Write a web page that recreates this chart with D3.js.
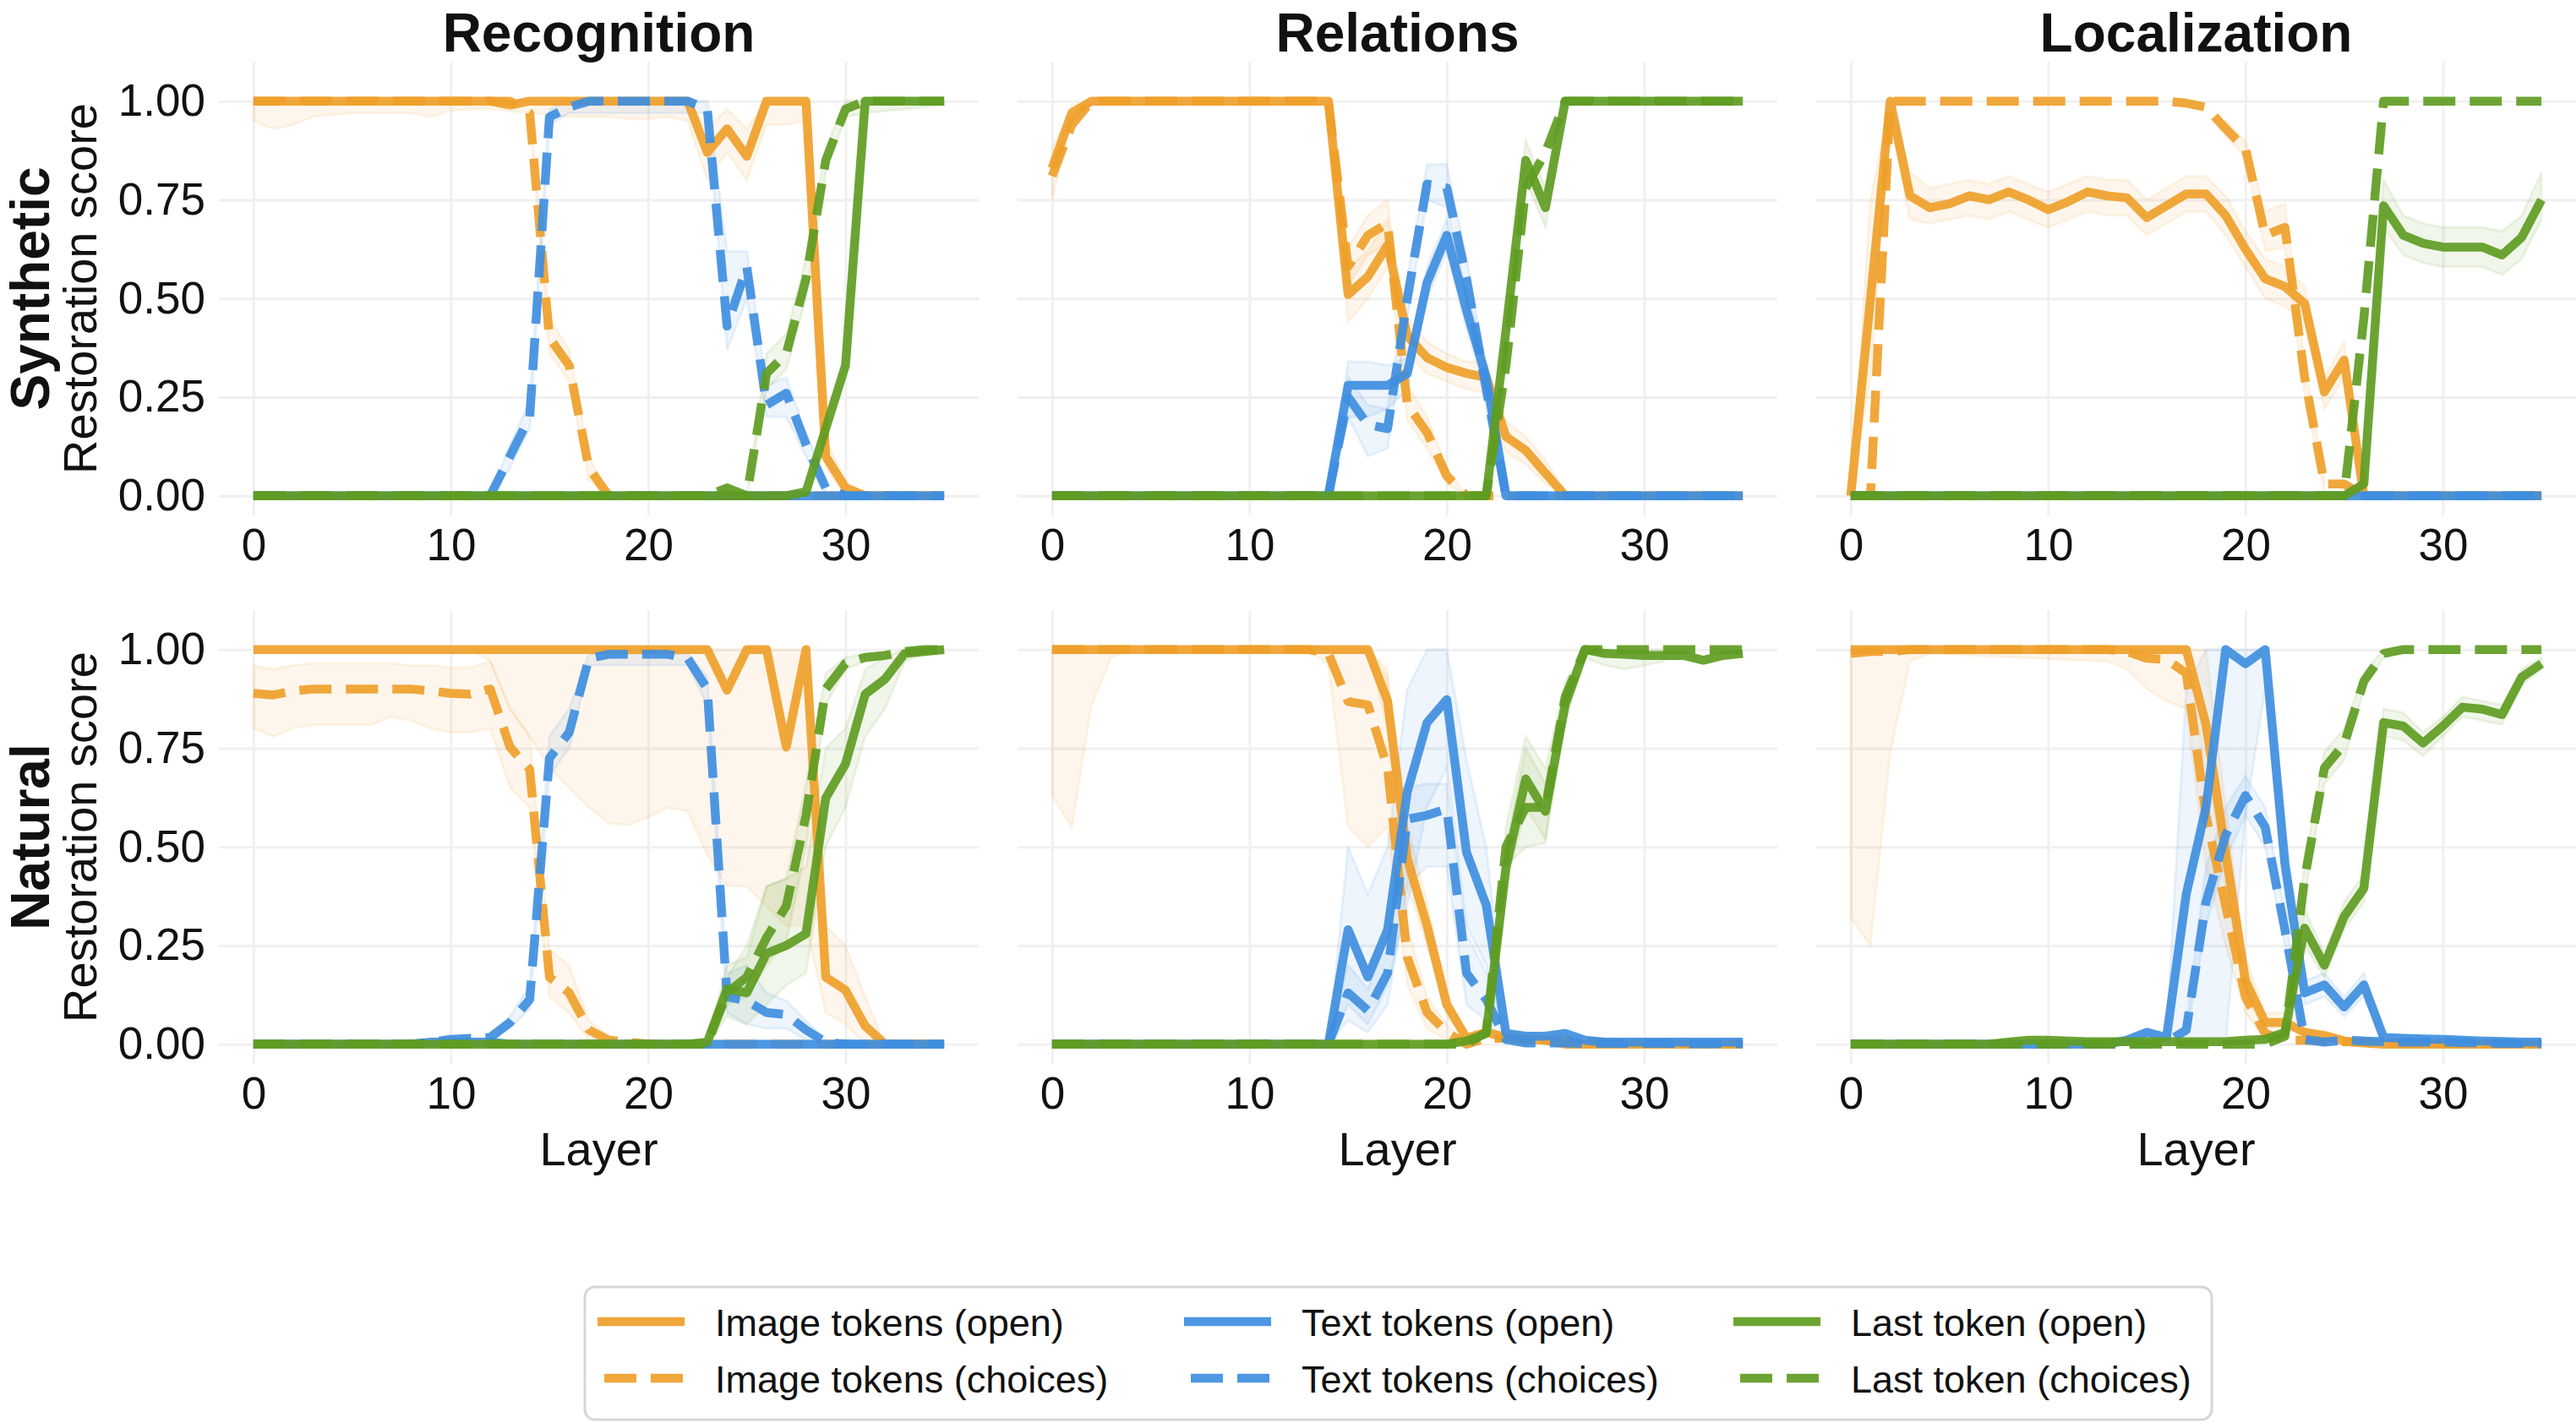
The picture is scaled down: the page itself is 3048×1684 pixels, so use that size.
<!DOCTYPE html>
<html>
<head>
<meta charset="utf-8">
<script src="https://cdn.jsdelivr.net/npm/d3@7"></script>
<style>
  body { margin: 0; background: #fff; }
  text { font-family: "Liberation Sans", Arial, Helvetica, sans-serif; fill: #111; }
</style>
</head>
<body>
<div id="container"></div>
<script>
/* DATA */
const layers = d3.range(36);
const taskNames = ["Recognition", "Relations", "Localization"];
const rowNames = ["Synthetic", "Natural"];
const seriesNames = ["Image tokens (open)", "Image tokens (choices)", "Text tokens (open)",
                     "Text tokens (choices)", "Last token (open)", "Last token (choices)"];
const xTicks = [0, 10, 20, 30];
const yTicks = [0, 0.25, 0.5, 0.75, 1];

// Recognition / Synthetic
const recSynImgOpen = [1,1,1,1,1,1,1,1,1,1,1,1, 1,0.99,1,1,1,1,1,1,1,1,1,0.87, 0.93,0.86,1,1,1,0.1,0.02,0,0,0,0,0];
const recSynImgChoice = [1,1,1,1,1,1,1,1,1,1,1,1, 1,1,0.97,0.4,0.33,0.07,0,0,0,0,0,0, 0,0,0,0,0,0,0,0,0,0,0,0];
const recSynTxtOpen = [0,0,0,0,0,0,0,0,0,0,0,0, 0,0,0,0,0,0,0,0,0,0,0,0, 0,0,0,0,0,0,0,0,0,0,0,0];
const recSynTxtChoice = [0,0,0,0,0,0,0,0,0,0,0,0, 0,0.1,0.2,0.96,0.985,1,1,1,1,1,1,0.98, 0.43,0.58,0.23,0.26,0.13,0.02,0,0,0,0,0,0];
const recSynLastOpen = [0,0,0,0,0,0,0,0,0,0,0,0, 0,0,0,0,0,0,0,0,0,0,0,0, 0,0,0,0,0.01,0.17,0.33,1,1,1,1,1];
const recSynLastChoice = [0,0,0,0,0,0,0,0,0,0,0,0, 0,0,0,0,0,0,0,0,0,0,0,0, 0.02,0,0.31,0.36,0.55,0.85,0.98,1,1,1,1,1];

// Relations / Synthetic
const relSynImgOpen = [0.83,0.97,1,1,1,1,1,1,1,1,1,1, 1,1,1,0.51,0.555,0.635,0.405,0.35,0.325,0.31,0.3,0.15, 0.115,0.057,0,0,0,0,0,0,0,0,0,0];
const relSynImgChoice = [0.81,0.94,1,1,1,1,1,1,1,1,1,1, 1,1,1,0.58,0.66,0.69,0.23,0.16,0.05,0,0,0, 0,0,0,0,0,0,0,0,0,0,0,0];
const relSynTxtOpen = [0,0,0,0,0,0,0,0,0,0,0,0, 0,0,0,0.28,0.28,0.28,0.31,0.54,0.66,0.47,0.3,0, 0,0,0,0,0,0,0,0,0,0,0,0];
const relSynTxtChoice = [0,0,0,0,0,0,0,0,0,0,0,0, 0,0,0,0.25,0.18,0.17,0.5,0.79,0.78,0.55,0.27,0, 0,0,0,0,0,0,0,0,0,0,0,0];
const relSynLastOpen = [0,0,0,0,0,0,0,0,0,0,0,0, 0,0,0,0,0,0,0,0,0,0,0,0.42, 0.85,0.73,1,1,1,1,1,1,1,1,1,1];
const relSynLastChoice = [0,0,0,0,0,0,0,0,0,0,0,0, 0,0,0,0,0,0,0,0,0,0,0,0.33, 0.78,0.87,1,1,1,1,1,1,1,1,1,1];

// Localization / Synthetic
const locSynImgOpen = [0,0.5,1,0.76,0.73,0.74,0.76,0.75,0.77,0.75,0.725,0.745, 0.77,0.76,0.755,0.705,0.735,0.765,0.765,0.71,0.625,0.55,0.53,0.487, 0.263,0.344,0,0,0,0,0,0,0,0,0,0];
const locSynImgChoice = [0,0,1,1,1,1,1,1,1,1,1,1, 1,1,1,1,1,0.995,0.985,0.93,0.88,0.66,0.68,0.3, 0.03,0.03,0,0,0,0,0,0,0,0,0,0];
const locSynTxtOpen = [0,0,0,0,0,0,0,0,0,0,0,0, 0,0,0,0,0,0,0,0,0,0,0,0, 0,0,0,0,0,0,0,0,0,0,0,0];
const locSynTxtChoice = [0,0,0,0,0,0,0,0,0,0,0,0, 0,0,0,0,0,0,0,0,0,0,0,0, 0,0,0,0,0,0,0,0,0,0,0,0];
const locSynLastOpen = [0,0,0,0,0,0,0,0,0,0,0,0, 0,0,0,0,0,0,0,0,0,0,0,0, 0,0,0.03,0.735,0.66,0.64,0.63,0.63,0.63,0.61,0.655,0.75];
const locSynLastChoice = [0,0,0,0,0,0,0,0,0,0,0,0, 0,0,0,0,0,0,0,0,0,0,0,0, 0,0,0.45,1,1,1,1,1,1,1,1,1];

// Recognition / Natural
const recNatImgOpen = [1,1,1,1,1,1,1,1,1,1,1,1, 1,1,1,1,1,1,1,1,1,1,1,1, 0.897,1,1,0.753,1,0.17,0.137,0.046,0,0,0,0];
const recNatImgChoice = [0.889,0.885,0.895,0.9,0.9,0.9,0.9,0.9,0.9,0.895,0.889,0.887, 0.9,0.753,0.696,0.17,0.13,0.036,0.01,0.005,0,0,0,0, 0,0,0,0,0,0,0,0,0,0,0,0];
const recNatTxtOpen = [0,0,0,0,0,0,0,0,0,0.005,0.005,0.005, 0.005,0,0,0,0,0,0,0,0,0,0,0, 0,0,0,0,0,0,0,0,0,0,0,0];
const recNatTxtChoice = [0,0,0,0,0,0,0,0,0,0.005,0.012,0.015, 0.017,0.055,0.113,0.725,0.79,0.978,0.988,0.988,0.988,0.988,0.978,0.9, 0.12,0.11,0.08,0.075,0.036,0.005,0,0,0,0,0,0];
const recNatLastOpen = [0,0,0,0,0,0,0,0,0,0,0,0, 0,0,0,0,0,0,0,0,0,0,0,0.005, 0.14,0.13,0.23,0.25,0.28,0.624,0.71,0.887,0.925,0.99,0.995,1];
const recNatLastChoice = [0,0,0,0,0,0,0,0,0,0,0,0, 0,0,0,0,0,0,0,0,0,0,0,0, 0.13,0.17,0.27,0.35,0.58,0.9,0.965,0.98,0.985,0.995,1,1];

// Relations / Natural
const relNatImgOpen = [1,1,1,1,1,1,1,1,1,1,1,1, 1,1,1,1,1,0.87,0.47,0.3,0.1,0.015,0.03,0.017, 0.012,0.01,0,0,0,0,0,0,0,0,0,0];
const relNatImgChoice = [1,1,1,1,1,1,1,1,1,1,1,1, 1,1,0.99,0.868,0.86,0.7,0.22,0.08,0.03,0,0.015,0.015, 0.012,0.01,0.008,0.005,0.005,0.004,0.003,0.002,0.002,0.001,0.001,0];
const relNatTxtOpen = [0,0,0,0,0,0,0,0,0,0,0,0, 0,0,0,0.29,0.17,0.29,0.64,0.815,0.873,0.486,0.352,0.027, 0.02,0.02,0.027,0.01,0.005,0.005,0.005,0.005,0.005,0.005,0.005,0.005];
const relNatTxtChoice = [0,0,0,0,0,0,0,0,0,0,0,0, 0,0,0,0.13,0.085,0.18,0.57,0.58,0.596,0.18,0.113,0.012, 0.003,0.003,0.003,0.002,0.002,0.002,0.002,0.002,0.001,0.001,0.001,0.001];
const relNatLastOpen = [0,0,0,0,0,0,0,0,0,0,0,0, 0,0,0,0,0,0,0,0,0,0.008,0.027,0.447, 0.672,0.59,0.86,1,0.99,0.988,0.985,0.985,0.985,0.973,0.985,0.99];
const relNatLastChoice = [0,0,0,0,0,0,0,0,0,0,0,0, 0,0,0,0,0,0,0,0,0,0,0.03,0.5, 0.6,0.6,0.88,1,1,1,1,1,1,1,1,1];

// Localization / Natural
const locNatImgOpen = [1,1,1,1,1,1,1,1,1,1,1,1, 1,1,1,1,1,1,0.81,0.486,0.16,0.055,0.055,0.03, 0.022,0.008,0.003,0,0,0,0,0,0,0,0,0];
const locNatImgChoice = [0.99,0.995,0.995,1,1,1,1,1,1,1,1,1, 1,1,0.995,0.978,0.975,0.94,0.58,0.35,0.12,0.027,0.01,0.01, 0.008,0.006,0.005,0.004,0.003,0.003,0.002,0.002,0.001,0.001,0,0];
const locNatTxtOpen = [0,0,0,0,0,0,0,0,0,0,0,0, 0,0,0.01,0.03,0.017,0.38,0.6,1,0.964,1,0.457,0.13, 0.15,0.094,0.15,0.017,0.015,0.013,0.012,0.01,0.008,0.007,0.005,0.005];
const locNatTxtChoice = [0,0,0,0,0,0,0,0,0,0,0,0, 0,0,0,0,0.005,0.036,0.36,0.53,0.63,0.55,0.29,0.012, 0.005,0.01,0.008,0.006,0.005,0.005,0.005,0.004,0.003,0.002,0.002,0.001];
const locNatLastOpen = [0,0,0,0,0,0,0,0,0.005,0.01,0.01,0.008, 0.006,0.006,0.006,0.006,0.006,0.006,0.006,0.006,0.01,0.012,0.03,0.294, 0.2,0.323,0.395,0.815,0.806,0.763,0.806,0.854,0.849,0.835,0.93,0.964];
const locNatLastChoice = [0,0,0,0,0,0,0,0,0,0,0,0, 0,0,0,0,0,0,0,0,0,0,0.02,0.42, 0.7,0.76,0.92,0.99,1,1,1,1,1,1,1,1];

// Confidence bands: [layer, low, high]
const recSynImgOpenBand = [[0,0.95,1],[1,0.93,1],[2,0.94,1],[3,0.96,1],[4,0.965,1],[5,0.97,1],[6,0.97,1],[7,0.97,1],[8,0.97,1],[9,0.96,1],[10,0.975,1],[11,0.98,1],[12,0.98,1],[13,0.975,1],[14,0.97,1],[15,0.965,1],[16,0.96,1],[17,0.96,1],[18,0.96,1],[19,0.955,1],[20,0.955,1],[21,0.96,1],[22,0.95,1],[23,0.8,0.93],[24,0.87,0.98],[25,0.8,0.93],[26,0.94,1],[27,0.94,1],[28,0.95,1],[29,0.07,0.14],[30,0,0.04],[31,0,0]];
const recSynImgChoiceBand = [[14,0.96,0.98],[15,0.36,0.45],[16,0.29,0.37],[17,0.04,0.1],[18,0,0]];
const recSynTxtChoiceBand = [[12,0,0],[13,0.07,0.13],[14,0.17,0.24],[15,0.94,0.98],[16,0.97,1],[23,0.97,1],[24,0.37,0.62],[25,0.5,0.62],[26,0.2,0.28],[27,0.2,0.3],[28,0.1,0.16],[29,0,0.04]];
const recSynLastChoiceBand = [[25,0,0],[26,0.27,0.36],[27,0.32,0.41],[28,0.5,0.6],[29,0.82,0.88],[30,0.96,1],[31,0.97,1],[35,0.99,1]];

const relSynImgOpenBand = [[0,0.75,0.88],[1,0.95,0.99],[2,1,1]];
const relSynImgOpenBand2 = [[14,1,1],[15,0.44,0.58],[16,0.5,0.62],[17,0.58,0.7],[18,0.36,0.45],[19,0.31,0.39],[20,0.29,0.36],[21,0.27,0.34],[22,0.26,0.34],[23,0.11,0.19],[24,0.08,0.15],[25,0.03,0.09],[26,0,0.01]];
const relSynImgChoiceBand = [[14,1,1],[15,0.53,0.63],[16,0.61,0.71],[17,0.64,0.75],[18,0.19,0.28],[19,0.12,0.2],[20,0.03,0.07],[21,0,0]];
const relSynTxtOpenBand = [[14,0,0],[15,0.2,0.34],[16,0.2,0.34],[17,0.22,0.33],[18,0.27,0.35],[19,0.5,0.58],[20,0.62,0.7],[21,0.42,0.52],[22,0.26,0.34],[23,0,0]];
const relSynTxtChoiceBand = [[14,0,0],[15,0.2,0.3],[16,0.1,0.23],[17,0.12,0.22],[18,0.45,0.55],[19,0.75,0.84],[20,0.73,0.84],[21,0.5,0.6],[22,0.22,0.32],[23,0,0]];
const relSynLastOpenBand = [[22,0,0],[23,0.38,0.46],[24,0.8,0.9],[25,0.68,0.78],[26,1,1]];

const locSynImgOpenBand = [[0,0,0],[1,0.3,0.75],[2,0.95,1],[3,0.7,0.82],[4,0.69,0.78],[5,0.7,0.79],[6,0.71,0.8],[7,0.7,0.79],[8,0.72,0.81],[9,0.7,0.79],[10,0.68,0.77],[11,0.7,0.79],[12,0.72,0.81],[13,0.71,0.8],[14,0.71,0.8],[15,0.66,0.75],[16,0.69,0.78],[17,0.72,0.81],[18,0.72,0.81],[19,0.66,0.76],[20,0.58,0.67],[21,0.5,0.6],[22,0.48,0.58],[23,0.44,0.53],[24,0.22,0.3],[25,0.3,0.39],[26,0,0.02]];
const locSynImgChoiceBand = [[19,0.91,0.95],[20,0.86,0.9],[21,0.62,0.72],[22,0.63,0.74],[23,0.26,0.34],[24,0.01,0.05]];
const locSynLastOpenBand = [[25,0,0],[26,0.02,0.04],[27,0.68,0.8],[28,0.61,0.71],[29,0.59,0.69],[30,0.58,0.68],[31,0.58,0.68],[32,0.58,0.68],[33,0.56,0.67],[34,0.6,0.71],[35,0.7,0.82]];

const recNatImgOpenBand = [[11,1,1],[12,0.97,1],[13,0.85,1],[14,0.78,1],[15,0.7,1],[16,0.65,1],[17,0.6,1],[18,0.56,1],[19,0.555,1],[20,0.575,1],[21,0.6,1],[22,0.59,1],[23,0.48,1],[24,0.4,1],[25,0.4,1],[26,0.35,1],[27,0.3,1],[28,0.3,1],[29,0.08,0.3],[30,0.05,0.25],[31,0,0.12],[32,0,0]];
const recNatImgChoiceBand = [[0,0.8,0.96],[1,0.78,0.95],[2,0.8,0.96],[3,0.81,0.965],[4,0.81,0.965],[5,0.81,0.965],[6,0.81,0.965],[7,0.83,0.965],[8,0.82,0.96],[9,0.8,0.96],[10,0.79,0.955],[11,0.79,0.955],[12,0.8,0.97],[13,0.65,0.85],[14,0.6,0.78],[15,0.12,0.24],[16,0.08,0.2],[17,0.01,0.06],[18,0,0.02]];
const recNatTxtChoiceBand = [[12,0.01,0.025],[13,0.04,0.07],[14,0.09,0.15],[15,0.68,0.78],[16,0.75,0.85],[17,0.96,0.99],[22,0.96,0.99],[23,0.86,0.93],[24,0.08,0.18],[25,0.05,0.2],[26,0.04,0.13],[27,0.04,0.11],[28,0.01,0.06],[29,0,0.01]];
const recNatLastOpenBand = [[23,0,0.01],[24,0.07,0.2],[25,0.05,0.22],[26,0.1,0.4],[27,0.15,0.42],[28,0.18,0.45],[29,0.5,0.75],[30,0.6,0.8],[31,0.78,0.95],[32,0.85,0.98],[33,0.97,1],[34,0.99,1],[35,1,1]];
const recNatLastChoiceBand = [[23,0,0],[24,0.1,0.17],[25,0.12,0.25],[26,0.2,0.4],[27,0.26,0.42],[28,0.5,0.66],[29,0.86,0.94],[30,0.95,0.98],[31,0.97,0.99]];

const relNatImgChoiceBand = [[0,0.63,1],[1,0.55,1],[2,0.86,1],[3,0.98,1],[4,1,1]];
const relNatImgChoiceBand2 = [[13,1,1],[14,0.96,1],[15,0.55,1],[16,0.5,1],[17,0.55,0.95],[18,0.15,0.3],[19,0.04,0.12],[20,0.01,0.05],[21,0,0]];
const relNatImgOpenBand = [[16,1,1],[17,0.8,0.93],[18,0.4,0.55],[19,0.25,0.36],[20,0.07,0.13],[21,0.01,0.02]];
const relNatTxtOpenBand = [[14,0,0],[15,0.1,0.5],[16,0.05,0.38],[17,0.15,0.5],[18,0.35,0.9],[19,0.6,1],[20,0.7,1],[21,0.3,0.72],[22,0.2,0.5],[23,0.01,0.05]];
const relNatTxtChoiceBand = [[14,0,0],[15,0.06,0.2],[16,0.03,0.14],[17,0.1,0.27],[18,0.4,0.65],[19,0.45,0.66],[20,0.45,0.66],[21,0.1,0.28],[22,0.06,0.18],[23,0,0.02]];
const relNatLastOpenBand = [[22,0.02,0.03],[23,0.4,0.5],[24,0.6,0.75],[25,0.52,0.66],[26,0.82,0.9],[27,0.98,1],[28,0.96,1],[29,0.95,1],[30,0.96,1],[31,0.97,1]];
const relNatLastChoiceBand = [[22,0.02,0.04],[23,0.45,0.55],[24,0.5,0.78],[25,0.51,0.7],[26,0.85,0.92],[27,1,1]];

const locNatImgChoiceBand = [[0,0.32,1],[1,0.25,1],[2,0.74,1],[3,0.97,1],[4,0.99,1],[13,0.97,1],[14,0.95,1],[15,0.9,1],[16,0.87,1],[17,0.85,1],[18,0.45,0.7],[19,0.25,0.45],[20,0.08,0.2],[21,0.01,0.05]];
const locNatImgOpenBand = [[17,1,1],[18,0.75,1],[19,0.4,0.6],[20,0.12,0.22],[21,0.04,0.08],[22,0.04,0.08],[23,0.02,0.06]];
const locNatTxtOpenBand = [[16,0,0.03],[17,0,0.9],[18,0,1],[19,0,1],[20,0.58,1],[21,0.9,1],[22,0.37,0.55],[23,0.1,0.16],[24,0.12,0.18],[25,0.07,0.12],[26,0.12,0.18],[27,0.01,0.03]];
const locNatTxtChoiceBand = [[17,0.02,0.05],[18,0.3,0.45],[19,0.47,0.6],[20,0.58,0.68],[21,0.5,0.6],[22,0.25,0.33],[23,0,0.02]];
const locNatLastOpenBand = [[22,0.02,0.04],[23,0.25,0.34],[24,0.17,0.23],[25,0.29,0.36],[26,0.36,0.43],[27,0.78,0.85],[28,0.77,0.84],[29,0.73,0.79],[30,0.78,0.83],[31,0.83,0.88],[32,0.82,0.87],[33,0.81,0.86],[34,0.91,0.95],[35,0.95,0.98]];
const locNatLastChoiceBand = [[22,0.01,0.03],[23,0.38,0.46],[24,0.66,0.74],[25,0.72,0.8],[26,0.9,0.94],[27,0.98,1]];

/* PANELS */
const panels = [
  {row: 0, col: 0,
   series: [recSynImgOpen, recSynImgChoice, recSynTxtOpen, recSynTxtChoice, recSynLastOpen, recSynLastChoice],
   bands: [[0, recSynImgOpenBand], [1, recSynImgChoiceBand], [3, recSynTxtChoiceBand], [5, recSynLastChoiceBand]]},
  {row: 0, col: 1,
   series: [relSynImgOpen, relSynImgChoice, relSynTxtOpen, relSynTxtChoice, relSynLastOpen, relSynLastChoice],
   bands: [[0, relSynImgOpenBand], [0, relSynImgOpenBand2], [1, relSynImgChoiceBand], [2, relSynTxtOpenBand], [3, relSynTxtChoiceBand], [4, relSynLastOpenBand]]},
  {row: 0, col: 2,
   series: [locSynImgOpen, locSynImgChoice, locSynTxtOpen, locSynTxtChoice, locSynLastOpen, locSynLastChoice],
   bands: [[0, locSynImgOpenBand], [1, locSynImgChoiceBand], [4, locSynLastOpenBand]]},
  {row: 1, col: 0,
   series: [recNatImgOpen, recNatImgChoice, recNatTxtOpen, recNatTxtChoice, recNatLastOpen, recNatLastChoice],
   bands: [[0, recNatImgOpenBand], [1, recNatImgChoiceBand], [3, recNatTxtChoiceBand], [4, recNatLastOpenBand], [5, recNatLastChoiceBand]]},
  {row: 1, col: 1,
   series: [relNatImgOpen, relNatImgChoice, relNatTxtOpen, relNatTxtChoice, relNatLastOpen, relNatLastChoice],
   bands: [[1, relNatImgChoiceBand], [1, relNatImgChoiceBand2], [0, relNatImgOpenBand], [2, relNatTxtOpenBand], [3, relNatTxtChoiceBand], [4, relNatLastOpenBand], [5, relNatLastChoiceBand]]},
  {row: 1, col: 2,
   series: [locNatImgOpen, locNatImgChoice, locNatTxtOpen, locNatTxtChoice, locNatLastOpen, locNatLastChoice],
   bands: [[1, locNatImgChoiceBand], [0, locNatImgOpenBand], [2, locNatTxtOpenBand], [3, locNatTxtChoiceBand], [4, locNatLastOpenBand], [5, locNatLastChoiceBand]]}
];

/* LAYOUT AND STYLE */
const width = 3048, height = 1684;
const colLeft = [259, 1204, 2149];
const axW = 899;
const rowTop = [73, 722];
const axH = 537;
const colors = ["#ef9f2a", "#ef9f2a", "#3f8edf", "#3f8edf", "#609c22", "#609c22"];
const dashed = [false, true, false, true, false, true];
const lw = 10.5;
const dash = "38,17";

const svg = d3.select("#container")
  .append("svg")
  .attr("width", width)
  .attr("height", height);

panels.forEach(p => {
  const left = colLeft[p.col], top = rowTop[p.row];
  const x = d3.scaleLinear().domain([-1.75, 36.75]).range([left, left + axW]);
  const y = d3.scaleLinear().domain([-0.05, 1.1]).range([top + axH, top]);
  const g = svg.append("g");

  // grid via axes
  const xAxis = d3.axisBottom(x).tickValues(xTicks).tickSize(-axH).tickPadding(15).tickFormat(d3.format("d"));
  const gx = g.append("g").attr("transform", `translate(0, ${top + axH})`).call(xAxis);
  gx.select(".domain").remove();
  gx.selectAll(".tick line").attr("stroke", "#f0f0f0").attr("stroke-width", 3);
  gx.selectAll(".tick text").style("font-size", "53px").attr("fill", "#111")
    .style("font-family", "'Liberation Sans', Arial, sans-serif");

  const yAxis = d3.axisLeft(y).tickValues(yTicks).tickSize(-axW).tickPadding(16)
    .tickFormat(p.col === 0 ? d3.format(".2f") : () => "");
  const gy = g.append("g").attr("transform", `translate(${left}, 0)`).call(yAxis);
  gy.select(".domain").remove();
  gy.selectAll(".tick line").attr("stroke", "#f0f0f0").attr("stroke-width", 3);
  gy.selectAll(".tick text").style("font-size", "53px").attr("fill", "#111")
    .style("font-family", "'Liberation Sans', Arial, sans-serif");

  // bands
  const area = d3.area()
    .x(d => x(d[0]))
    .y0(d => y(d[1]))
    .y1(d => y(d[2]));
  p.bands.forEach(([si, b]) => {
    g.append("path")
      .attr("d", area(b))
      .attr("fill", colors[si])
      .attr("fill-opacity", 0.09)
      .attr("stroke", colors[si])
      .attr("stroke-opacity", 0.1)
      .attr("stroke-width", 3);
  });

  // lines
  const line = d3.line()
    .x((d, i) => x(layers[i]))
    .y(d => y(d));
  p.series.forEach((s, si) => {
    g.append("path")
      .attr("d", line(s))
      .attr("fill", "none")
      .attr("stroke", colors[si])
      .attr("stroke-opacity", 0.92)
      .attr("stroke-width", lw)
      .attr("stroke-linejoin", "round")
      .attr("stroke-dasharray", dashed[si] ? dash : null);
  });

  // titles and labels
  if (p.row === 0) {
    svg.append("text")
      .attr("x", left + axW / 2)
      .attr("y", 61)
      .attr("text-anchor", "middle")
      .style("font-size", "64px")
      .style("font-weight", "bold")
      .text(taskNames[p.col]);
  }
  if (p.row === 1) {
    svg.append("text")
      .attr("x", left + axW / 2)
      .attr("y", 1379)
      .attr("text-anchor", "middle")
      .style("font-size", "56px")
      .text("Layer");
  }
  if (p.col === 0) {
    const cy = top + axH / 2;
    svg.append("text")
      .attr("transform", `translate(58, ${cy}) rotate(-90)`)
      .attr("text-anchor", "middle")
      .style("font-size", "64px")
      .style("font-weight", "bold")
      .text(rowNames[p.row]);
    svg.append("text")
      .attr("transform", `translate(114, ${cy}) rotate(-90)`)
      .attr("text-anchor", "middle")
      .style("font-size", "56px")
      .text("Restoration score");
  }
});

/* LEGEND */
const legend = svg.append("g");
legend.append("rect")
  .attr("x", 692).attr("y", 1523)
  .attr("width", 1925).attr("height", 157)
  .attr("rx", 12)
  .attr("fill", "#fff")
  .attr("stroke", "#d6d6d6")
  .attr("stroke-width", 3);

const legendColX = [707, 1401, 2051];
const legendRowY = [1564, 1631];
seriesNames.forEach((name, i) => {
  const cx = legendColX[Math.floor(i / 2)];
  const cy = legendRowY[i % 2];
  legend.append("line")
    .attr("x1", cx).attr("x2", cx + 103)
    .attr("y1", cy).attr("y2", cy)
    .attr("stroke", colors[i])
    .attr("stroke-opacity", 0.92)
    .attr("stroke-width", lw)
    .attr("stroke-dasharray", dashed[i] ? dash : null)
    .attr("stroke-dashoffset", dashed[i] ? 47 : null);
  legend.append("text")
    .attr("x", cx + 139)
    .attr("y", cy + 17)
    .style("font-size", "45px")
    .text(name);
});
</script>
</body>
</html>
